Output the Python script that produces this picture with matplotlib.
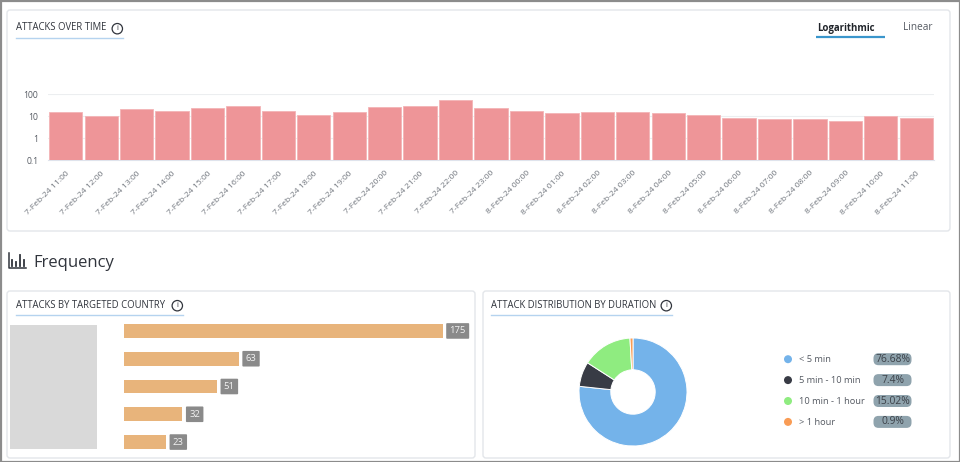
import matplotlib
matplotlib.use("Agg")
import matplotlib.pyplot as plt
from matplotlib.patches import FancyBboxPatch, Rectangle, Circle

plt.rcParams['font.family'] = ['Open Sans', 'DejaVu Sans']

W, H = 960, 462

# attacks over time
hours = ['7-Feb-24 11:00', '7-Feb-24 12:00', '7-Feb-24 13:00', '7-Feb-24 14:00', '7-Feb-24 15:00',
         '7-Feb-24 16:00', '7-Feb-24 17:00', '7-Feb-24 18:00', '7-Feb-24 19:00', '7-Feb-24 20:00',
         '7-Feb-24 21:00', '7-Feb-24 22:00', '7-Feb-24 23:00', '8-Feb-24 00:00', '8-Feb-24 01:00',
         '8-Feb-24 02:00', '8-Feb-24 03:00', '8-Feb-24 04:00', '8-Feb-24 05:00', '8-Feb-24 06:00',
         '8-Feb-24 07:00', '8-Feb-24 08:00', '8-Feb-24 09:00', '8-Feb-24 10:00', '8-Feb-24 11:00']
attacks = [14.5, 9.5, 21, 17.5, 22.5, 30, 17.5, 11, 14.5, 26, 30, 55, 22.5, 17.5, 13, 14.5, 16, 14, 11.5, 8.5, 7, 7, 6, 9.5, 8]
log_ticks = [0.1, 1, 10, 100]
log_tick_labels = ['0.1', '1', '10', '100']

# targeted countries (names are blanked out in the picture)
country_counts = [175, 63, 51, 32, 23]

# duration split
duration_labels = ['< 5 min', '5 min - 10 min', '10 min - 1 hour', '> 1 hour']
duration_share = [76.68, 7.4, 15.02, 0.9]
duration_text = ['76.68%', '7.4%', '15.02%', '0.9%']
duration_colors = ['#74b3ea', '#383b45', '#8fec80', '#f99c55']


def px_axes(x0, y0, x1, y1):
    # axes from pixel box, y measured from the top of the image
    return fig.add_axes([x0 / W, 1 - y1 / H, (x1 - x0) / W, (y1 - y0) / H])


def card(x0, y0, x1, y1):
    bg.add_patch(FancyBboxPatch((x0 + 2, y0 + 2), x1 - x0 - 4, y1 - y0 - 4,
                                boxstyle='round,pad=2,rounding_size=3',
                                fc='white', ec='#e3e6ea', lw=1))


def heading(text, x, y, line_end):
    bg.text(x, y, text, fontsize=6.85, color='#30343c', va='center', ha='left', fontweight='medium')
    bg.plot([x, line_end], [y + 10, y + 10], color='#b5d3ef', lw=1)
    # little info icon at the end of the line
    cx = line_end - 5.7
    bg.add_patch(Circle((cx, y + 0.7), 5.2, fc='white', ec='#30343c', lw=0.9))
    bg.text(cx, y + 0.7, 'i', fontsize=5.5, color='#30343c', ha='center', va='center')


fig = plt.figure(figsize=(W / 100, H / 100), dpi=100, facecolor='white')

# background layer in pixel coordinates
bg = fig.add_axes([0, 0, 1, 1])
bg.set_xlim(0, W)
bg.set_ylim(H, 0)
bg.axis('off')

bg.add_patch(Rectangle((0.5, 0.5), W - 1, H - 1, fc='white', ec='#8c8c8c', lw=1.6))
card(7, 10, 950, 231)
card(7, 291, 475, 458)
card(483, 291, 950, 458)

heading('ATTACKS OVER TIME', 16, 28, 123)
heading('ATTACKS BY TARGETED COUNTRY', 16, 305, 183)
heading('ATTACK DISTRIBUTION BY DURATION', 491, 305, 672)

# log / linear switch
bg.text(846, 28, 'Logarithmic', fontsize=6.9, color='#20242a', ha='center', va='center', fontweight='bold')
bg.text(918, 28, 'Linear', fontsize=7.2, color='#555a62', ha='center', va='center')
bg.plot([816, 885], [37, 37], color='#3a96cc', lw=1.6, solid_capstyle='butt')

# Frequency header with bar icon
bg.plot([8.5, 8.5, 25.5], [253, 268, 268], color='#30343c', lw=1.1)
for ix, top in zip([12, 16, 20, 24], [260, 262, 255, 260]):
    bg.plot([ix, ix], [top, 266], color='#30343c', lw=1.3)
bg.text(33, 263, 'Frequency', fontsize=12, color='#30343c', ha='left', va='center')

# blanked country names
bg.add_patch(Rectangle((10, 325), 87, 124, fc='#d9d9d9', ec='none'))

# top chart
ax = px_axes(48, 94, 934, 160)
x_pos = list(range(len(hours)))
ax.bar(x_pos, attacks, width=0.94, color='#ee9598', edgecolor='#f3b4b6', linewidth=0.6, zorder=3)
ax.set_yscale('log')
ax.set_ylim(0.1, 100)
ax.set_xlim(-0.5, len(hours) - 0.5)
ax.set_yticks(log_ticks)
ax.set_yticklabels(log_tick_labels, fontsize=6.2, color='#555a62')
ax.minorticks_off()
ax.set_xticks(x_pos)
ax.set_xticklabels(hours, rotation=45, ha='right', rotation_mode='anchor', fontsize=6.1, color='#6f747c')
ax.tick_params(axis='both', length=0)
ax.tick_params(axis='x', pad=7)
ax.tick_params(axis='y', pad=7)
ax.grid(axis='y', color='#eceef0', lw=0.8, zorder=0)
ax.patch.set_alpha(0)
for s in ['top', 'left', 'right']:
    ax.spines[s].set_visible(False)
ax.spines['bottom'].set_color('#dfe3ec')

# country bars
ax2 = px_axes(124, 324, 442.5, 449)
y_pos = list(range(len(country_counts)))
ax2.barh(y_pos, country_counts, height=0.5, color='#e8b47b', zorder=3)
ax2.set_xlim(0, 175)
ax2.set_ylim(4.25, -0.25)
ax2.axis('off')
for y, c in zip(y_pos, country_counts):
    ax2.annotate(str(c), xy=(c, y), xytext=(7, 0), textcoords='offset pixels', ha='left', va='center',
                 fontsize=6.8, color='#f2f2f2', fontweight='medium', annotation_clip=False,
                 bbox=dict(boxstyle='round,pad=0.35,rounding_size=0.1', fc='#8a8a8a', ec='none'))

# donut
ax3 = px_axes(573, 332, 693, 452)
ax3.pie(duration_share, colors=duration_colors, startangle=90, counterclock=False, radius=0.9,
        wedgeprops=dict(width=0.53, edgecolor='white', linewidth=0.7))
ax3.set_xlim(-1, 1)
ax3.set_ylim(-1, 1)

# donut legend
for i, (lab, txt, col) in enumerate(zip(duration_labels, duration_text, duration_colors)):
    ly = 359.2 + i * 20.9
    bg.add_patch(Circle((788, ly), 4, fc=col, ec='none'))
    bg.text(799, ly + 0.5, lab, fontsize=6.7, color='#555a62', ha='left', va='center')
    bg.add_patch(FancyBboxPatch((876, ly - 3.5), 33, 7, boxstyle='round,pad=2.5,rounding_size=5',
                                fc='#8fa3ad', ec='none'))
    bg.text(892.5, ly, txt, fontsize=7.4, color='#3c4148', ha='center', va='center')

fig.savefig('out.png', dpi=100, facecolor='white')
